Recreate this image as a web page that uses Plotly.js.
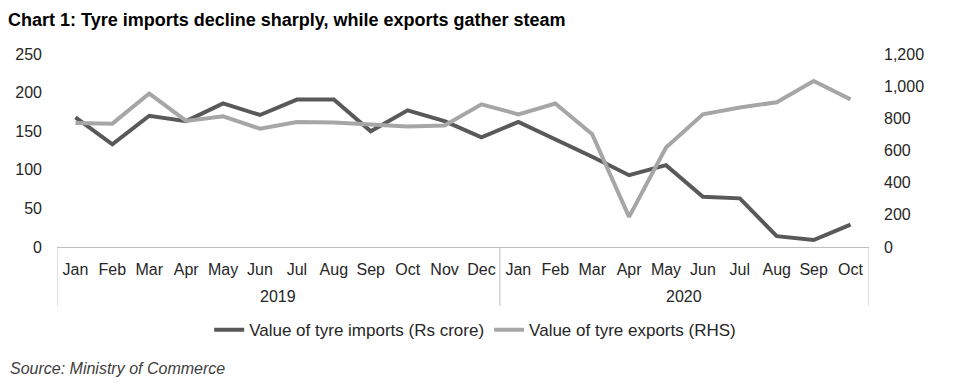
<!DOCTYPE html>
<html>
<head>
<meta charset="utf-8">
<script src="https://cdn.plot.ly/plotly-3.0.1.min.js"></script>
<style>html,body{margin:0;padding:0;background:#fff;}#chart{width:973px;height:388px;}</style>
</head>
<body>
<div id="chart"></div>
<script>
const years = ["2019","2019","2019","2019","2019","2019","2019","2019","2019","2019","2019","2019",
               "2020","2020","2020","2020","2020","2020","2020","2020","2020","2020"];
const months = ["Jan","Feb","Mar","Apr","May","Jun","Jul","Aug","Sep","Oct","Nov","Dec",
                "Jan","Feb","Mar","Apr","May","Jun","Jul","Aug","Sep","Oct"];
const imports = [168,133,170,163,186,171,191,191,150,177,163,142,
                 162,140,117,93,106,65,63,14,9,29];
const exports = [771,767,954,784,813,736,777,774,761,750,755,887,
                 825,892,701,187,618,825,867,900,1032,918];
const leftTicks = [0,50,100,150,200,250];
const rightTicks = [0,200,400,600,800,1000,1200];
const rightTickText = ["0","200","400","600","800","1,000","1,200"];

const FAM = "Liberation Sans, Arial, sans-serif";
const font = {family: FAM, size: 16, color: "#262626"};

// category index positions derived from the month list
const idx = months.map((m, i) => i);

// year groups: start/end index for each year
const groups = [];
years.forEach((y, i) => {
  const g = groups[groups.length - 1];
  if (g && g.year === y) g.end = i; else groups.push({year: y, start: i, end: i});
});

const divColor = "#bfbfbf";
const divBottom = -(305.7 - 246.7) / 193;
const shapes = [];
const bounds = [groups[0].start - 0.5].concat(groups.map(g => g.end + 0.5));
bounds.forEach(b => shapes.push({type: "line", xref: "x", yref: "paper", x0: b, x1: b, y0: 0, y1: divBottom,
  line: {color: divColor, width: 1}}));

const annotations = groups.map(g => ({
  text: g.year, xref: "x", yref: "paper", x: (g.start + g.end) / 2, y: -(296 - 246.7) / 193,
  xanchor: "center", yanchor: "middle", showarrow: false, font: font
}));
annotations.push({text: "<i>Source: Ministry of Commerce</i>", xref: "paper", yref: "paper",
  x: -49 / 812, xanchor: "left", y: -(368 - 246.7) / 193, yanchor: "middle", showarrow: false,
  font: {family: FAM, size: 16, color: "#404040"}});

const traces = [
  {x: idx, y: imports, type: "scatter", mode: "lines",
   name: "Value of tyre imports (Rs crore)", line: {color: "#595959", width: 4}, yaxis: "y"},
  {x: idx, y: exports, type: "scatter", mode: "lines",
   name: "Value of tyre exports (RHS)", line: {color: "#a6a6a6", width: 4}, yaxis: "y2"}
];

const layout = {
  width: 973, height: 388,
  margin: {l: 57, r: 104, t: 54, b: 141, autoexpand: false},
  paper_bgcolor: "#fff", plot_bgcolor: "#fff",
  font: font,
  showlegend: true,
  title: {text: "<b>Chart 1: Tyre imports decline sharply, while exports gather steam</b>",
          x: 8 / 973, xref: "container", xanchor: "left", y: 1 - 20 / 388, yanchor: "middle",
          font: {family: FAM, size: 18, color: "#000"}},
  xaxis: {range: [-0.5, idx.length - 0.5], tickvals: idx, ticktext: months, showline: true,
          linecolor: divColor, linewidth: 1, showgrid: false, zeroline: false, ticks: "",
          tickfont: font, ticklabelstandoff: 8, tickangle: 0, automargin: false},
  yaxis: {range: [0, 250], tickvals: leftTicks, showgrid: false, zeroline: false, showline: false,
          ticks: "", tickfont: font, ticklabelstandoff: 14, automargin: false},
  yaxis2: {range: [0, 1200], tickvals: rightTicks, ticktext: rightTickText, overlaying: "y", side: "right",
           showgrid: false, zeroline: false, showline: false, ticks: "", tickfont: font, ticklabelstandoff: 14,
           automargin: false},
  legend: {orientation: "h", x: 0.515, xref: "paper", xanchor: "center",
           y: -(330 - 246.7) / 193, yanchor: "middle", font: {family: FAM, size: 17, color: "#262626"},
           traceorder: "normal"},
  shapes: shapes,
  annotations: annotations
};
Plotly.newPlot("chart", traces, layout, {displayModeBar: false, staticPlot: true});
</script>
</body>
</html>
